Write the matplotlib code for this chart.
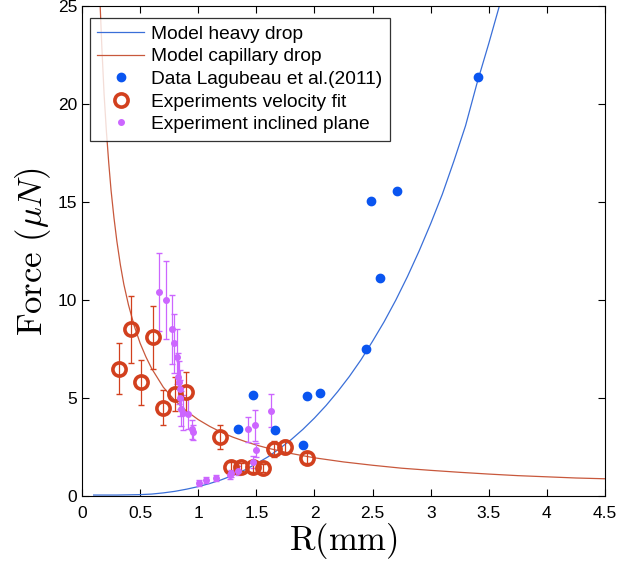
import numpy as np
import matplotlib.pyplot as plt

plt.rcParams['font.family'] = ['Liberation Sans', 'DejaVu Sans']
plt.rcParams['mathtext.fontset'] = 'cm'

# model curves
r_heavy = [0.1, 0.3, 0.5, 0.6, 0.7, 0.8, 0.9, 1.0, 1.1, 1.2, 1.3, 1.4, 1.5, 1.6, 1.7, 1.8, 1.9,
           2.0, 2.1, 2.2, 2.3, 2.4, 2.5, 2.6, 2.7, 2.8, 2.9, 3.0, 3.1, 3.2, 3.3, 3.4, 3.5, 3.6, 3.63]
f_heavy = [0.05, 0.05, 0.07, 0.1, 0.16, 0.24, 0.35, 0.48, 0.64, 0.83, 1.06, 1.33, 1.65, 2.0,
           2.42, 2.88, 3.4, 3.98, 4.62, 5.33, 6.1, 6.95, 7.9, 8.9, 10.0, 11.2, 12.5, 13.9, 15.4,
           17.1, 18.9, 21.1, 23.1, 25.2, 25.9]

r_cap = [0.155, 0.17, 0.19, 0.21, 0.23, 0.25, 0.275, 0.3, 0.33, 0.36, 0.4, 0.45, 0.5, 0.55,
         0.6, 0.7, 0.8, 0.9, 1.0, 1.1, 1.2, 1.3, 1.4, 1.5, 1.6, 1.8, 2.0, 2.25, 2.5, 2.75, 3.0,
         3.25, 3.5, 3.75, 4.0, 4.25, 4.5]
f_cap = [25.2, 23.0, 20.5, 18.6, 17.0, 15.6, 14.2, 13.0, 11.8, 10.8, 9.75, 8.67, 7.8, 7.1,
         6.5, 5.55, 4.87, 4.33, 3.9, 3.55, 3.25, 3.0, 2.79, 2.6, 2.44, 2.17, 1.95, 1.74, 1.57,
         1.42, 1.31, 1.21, 1.12, 1.04, 0.98, 0.92, 0.88]

# Lagubeau et al. (2011)
r_lag = [1.34, 1.47, 1.66, 1.905, 1.94, 2.05, 2.44, 2.49, 2.56, 2.71, 3.41]
f_lag = [3.42, 5.17, 3.35, 2.62, 5.12, 5.24, 7.48, 15.05, 11.15, 15.55, 21.4]

# velocity fit experiments
r_vel = [0.32, 0.42, 0.51, 0.61, 0.70, 0.80, 0.895, 1.185, 1.28, 1.37, 1.47, 1.56, 1.655, 1.75, 1.94]
f_vel = [6.5, 8.5, 5.8, 8.1, 4.5, 5.2, 5.3, 3.0, 1.5, 1.5, 1.5, 1.45, 2.4, 2.5, 1.95]
e_vel = [1.3, 1.7, 1.15, 1.6, 0.9, 0.85, 1.05, 0.6, 0.25, 0.2, 0.25, 0.2, 0.4, 0.35, 0.25]

# inclined plane experiments
r_inc = [0.66, 0.72, 0.77, 0.79, 0.82, 0.83, 0.835, 0.84, 0.845, 0.85, 0.87, 0.91, 0.95, 0.955,
         1.01, 1.07, 1.15, 1.27, 1.28, 1.34, 1.43, 1.47, 1.49, 1.50, 1.63]
f_inc = [10.4, 10.0, 8.5, 7.8, 7.1, 6.1, 5.8, 5.45, 5.0, 4.45, 4.25, 4.2, 3.4, 3.25,
         0.68, 0.8, 0.92, 1.07, 1.15, 1.3, 3.4, 1.75, 3.6, 2.35, 4.35]
e_inc = [2.0, 2.0, 1.75, 1.5, 1.4, 1.2, 1.1, 1.0, 0.9, 0.9, 0.9, 0.8, 0.5, 0.4,
         0.15, 0.15, 0.15, 0.2, 0.2, 0.25, 0.65, 0.3, 0.8, 0.35, 0.85]

xticks = [0, 0.5, 1, 1.5, 2, 2.5, 3, 3.5, 4, 4.5]
xtick_labels = ['0', '0.5', '1', '1.5', '2', '2.5', '3', '3.5', '4', '4.5']
yticks = [0, 5, 10, 15, 20, 25]

c_heavy = '#3a6fd8'
c_cap = '#c8583c'
c_lag = '#0a55f0'
c_vel = '#d2401e'
c_inc = '#cc66ff'

fig = plt.figure(figsize=(6.18, 5.62), dpi=100)
ax = fig.add_axes([0.1327, 0.1174, 0.8463, 0.8716])

ax.plot(r_heavy, f_heavy, color=c_heavy, lw=0.9, label='Model heavy drop')
ax.plot(r_cap, f_cap, color=c_cap, lw=0.9, label='Model capillary drop')

ax.errorbar(r_inc, f_inc, yerr=e_inc, fmt='none', ecolor=c_inc, elinewidth=0.9, capsize=2)
ax.errorbar(r_vel, f_vel, yerr=e_vel, fmt='none', ecolor=c_vel, elinewidth=0.9, capsize=2.5)

ax.plot(r_lag, f_lag, 'o', color=c_lag, ms=6, mec=c_lag, label='Data Lagubeau et al.(2011)')
ax.plot(r_vel, f_vel, 'o', ms=9.5, mfc='none', mec=c_vel, mew=2.6,
        label='Experiments velocity fit')
ax.plot(r_inc, f_inc, 'o', color=c_inc, ms=4, mec=c_inc, label='Experiment inclined plane')

ax.set_xlim(0, 4.5)
ax.set_ylim(0, 25)
ax.set_xticks(xticks)
ax.set_xticklabels(xtick_labels)
ax.set_yticks(yticks)
ax.tick_params(direction='in', length=5, width=0.8, top=True, right=True, labelsize=12.5)
ax.tick_params(axis='x', pad=7)
for s in ax.spines.values():
    s.set_linewidth(0.8)

ax.set_xlabel(r'$\mathrm{R(mm)}$', fontsize=25, labelpad=0)
ax.set_ylabel(r'$\mathrm{Force}\ (\mu N)$', fontsize=25, labelpad=3)

leg = ax.legend(loc='upper left', bbox_to_anchor=(0.015, 0.976), fontsize=13.75,
                frameon=True, fancybox=False, edgecolor='black', handlelength=2.45,
                borderaxespad=0, labelspacing=0.27, borderpad=0.4, handletextpad=0.35)
leg.get_frame().set_linewidth(0.9)

fig.savefig('out.png', dpi=100)
